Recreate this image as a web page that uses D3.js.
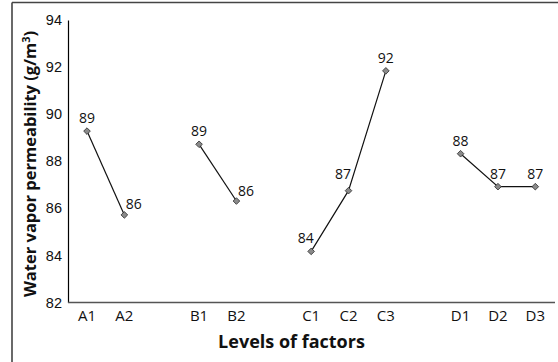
<!DOCTYPE html>
<html>
<head>
<meta charset="utf-8">
<script src="https://cdn.jsdelivr.net/npm/d3@7"></script>
<style>
  body { margin: 0; background: #fff; }
  svg { display: block; font-family: "Open Sans", "Noto Sans", sans-serif; }
</style>
</head>
<body>
<div id="chart"></div>
<script>
// Levels of factors vs water vapor permeability

const groups = ['A', 'B', 'C', 'D'];
const levels = ['A1', 'A2', 'B1', 'B2', 'C1', 'C2', 'C3', 'D1', 'D2', 'D3'];
const values = [89.28, 85.72, 88.72, 86.31, 84.17, 86.75, 91.84, 88.32, 86.92, 86.92];
const yTicks = [82, 84, 86, 88, 90, 92, 94];

// where the value label sits relative to its marker (default: above)
const labelSide = { A2: 'right', B2: 'right', C1: 'left', C2: 'left' };

const width = 558, height = 362;
const margin = { left: 68, top: 20, right: 3, bottom: 60 };

// slot index for each level, leaving one empty slot between groups
let slot = 0;
const points = [];
groups.forEach((g, gi) => {
    if (gi > 0) slot++;
    levels.filter(l => l[0] === g).forEach(l => {
        points.push({ level: l, group: g, slot: slot, value: values[levels.indexOf(l)] });
        slot++;
    });
});
const lastSlot = slot - 1;

const svg = d3.select('#chart').append('svg')
    .attr('width', width)
    .attr('height', height);

// outer frame (only top and left edges show)
svg.append('line').attr('x1', 12).attr('y1', 2.5).attr('x2', width).attr('y2', 2.5)
    .attr('stroke', '#444').attr('stroke-width', 1.6);
svg.append('line').attr('x1', 12).attr('y1', 2.5).attr('x2', 12).attr('y2', height)
    .attr('stroke', '#444').attr('stroke-width', 1.6);

const x = d3.scaleLinear().domain([0, lastSlot]).range([87, 535.3]);
const y = d3.scaleLinear().domain([82, 94]).range([302.5, 20]);

// y axis
const yAxis = svg.append('g')
    .attr('transform', `translate(${margin.left},0)`)
    .call(d3.axisLeft(y).tickValues(yTicks).tickSize(0).tickPadding(6));
yAxis.select('.domain').attr('stroke', '#000').attr('stroke-width', 1.2);
yAxis.selectAll('text').attr('font-size', 14.5).attr('fill', '#111');

// x axis line
svg.append('line')
    .attr('x1', margin.left).attr('x2', 555)
    .attr('y1', y(82)).attr('y2', y(82))
    .attr('stroke', '#555').attr('stroke-width', 1.6);

// x tick labels
svg.append('g').selectAll('text')
    .data(points)
    .enter().append('text')
    .attr('x', d => x(d.slot))
    .attr('y', 320.5)
    .attr('text-anchor', 'middle')
    .attr('font-size', 15)
    .attr('fill', '#111')
    .text(d => d.level);

// one line per factor
const line = d3.line().x(d => x(d.slot)).y(d => y(d.value));
svg.append('g').selectAll('path')
    .data(groups.map(g => points.filter(p => p.group === g)))
    .enter().append('path')
    .attr('d', line)
    .attr('fill', 'none')
    .attr('stroke', '#111')
    .attr('stroke-width', 1.2);

// diamond markers (square turned 45 degrees)
svg.append('g').selectAll('path')
    .data(points)
    .enter().append('path')
    .attr('d', d3.symbol().type(d3.symbolSquare).size(22))
    .attr('transform', d => `translate(${x(d.slot)},${y(d.value)}) rotate(45)`)
    .attr('fill', '#8a8a8a')
    .attr('stroke', '#333')
    .attr('stroke-width', 0.8);

// value labels
svg.append('g').selectAll('text')
    .data(points)
    .enter().append('text')
    .attr('x', d => {
        const s = labelSide[d.level];
        if (s === 'right') return x(d.slot) + 1.5;
        if (s === 'left') return x(d.slot) + 2.5;
        return x(d.slot);
    })
    .attr('y', d => {
        const s = labelSide[d.level];
        if (s === 'right') return y(d.value) - 5.5;
        if (s === 'left') return y(d.value) - (d.level === 'C2' ? 12 : 8);
        return y(d.value) - 8;
    })
    .attr('text-anchor', d => {
        const s = labelSide[d.level];
        if (s === 'right') return 'start';
        if (s === 'left') return 'end';
        return 'middle';
    })
    .attr('font-size', 14)
    .attr('fill', '#111')
    .text(d => d3.format('.0f')(d.value));

// axis titles
svg.append('text')
    .attr('transform', `translate(36,164) rotate(-90)`)
    .attr('text-anchor', 'middle')
    .attr('font-size', 16.5)
    .attr('font-weight', 'bold')
    .attr('fill', '#111')
    .html('Water vapor permeability (g/m<tspan dy="-6" font-size="11">3</tspan><tspan dy="6">)</tspan>');

svg.append('text')
    .attr('x', 291.5)
    .attr('y', 348)
    .attr('text-anchor', 'middle')
    .attr('font-size', 18)
    .attr('font-weight', 'bold')
    .attr('fill', '#111')
    .text('Levels of factors');
</script>
</body>
</html>
